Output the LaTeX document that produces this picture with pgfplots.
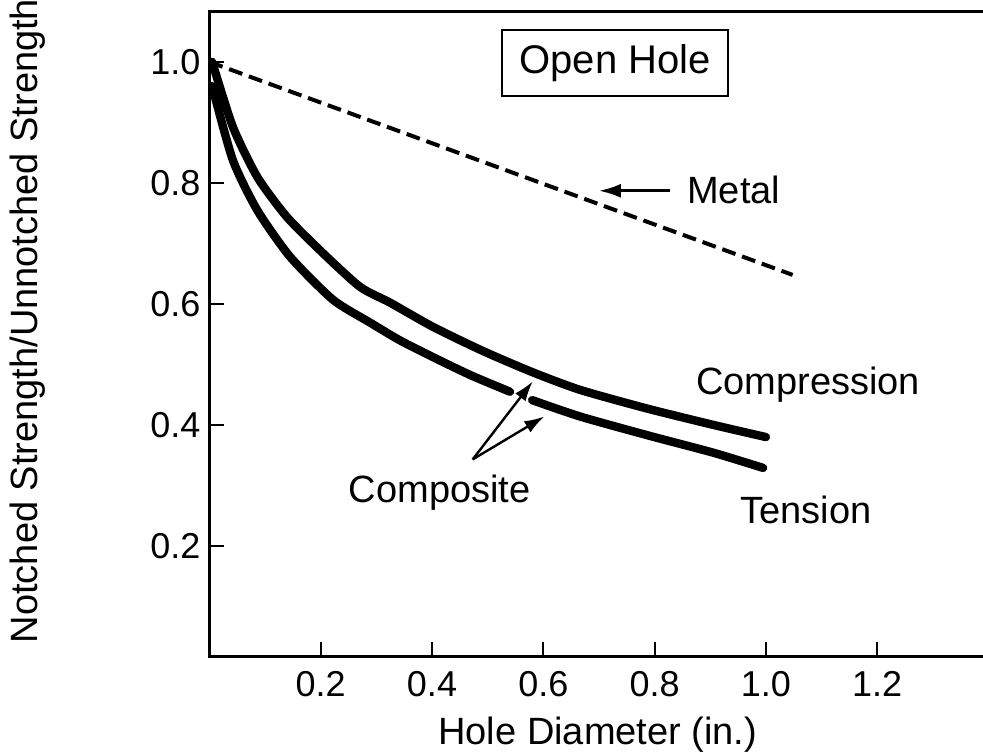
\documentclass[border=0pt]{standalone}
\usepackage{pgfplots}
\pgfplotsset{compat=1.18}
\usepackage{fontspec}
\setmainfont{Liberation Sans}
\usetikzlibrary{arrows.meta}
\begin{document}
\begin{tikzpicture}
\begin{axis}[
  scale only axis,
  width=389.55pt, height=322.5pt,
  xmin=0, xmax=1.40, ymin=0.017, ymax=1.083,
  axis line style={line width=1.3pt},
  xtick={0.2,0.4,0.6,0.8,1.0,1.2},
  ytick={0.2,0.4,0.6,0.8,1.0},
  xtick pos=bottom, ytick pos=left, tick align=inside,
  major tick length=7.5pt,
  every tick/.style={black, line width=1pt},
  /pgf/number format/.cd, fixed, fixed zerofill, precision=1, assume math mode=true,
  /pgfplots/.cd,
  ticklabel style={font=\fontsize{18}{21}\selectfont},
  xticklabel style={yshift=-4pt},
  yticklabel style={xshift=-1pt},
  xlabel={Hole Diameter (in.)},
  ylabel={Notched Strength/Unnotched Strength},
  label style={font=\fontsize{19}{23}\selectfont},
  xlabel style={at={(axis description cs:0.4986,-0.1214)}, anchor=center},
  ylabel style={at={(axis description cs:-0.2328,0.5205)}, anchor=center},
]
% Metal (dashed)
\addplot[black, line width=2pt, dash pattern=on 7pt off 3.5pt] coordinates {
  (0.000,1.000) (1.048,0.648)
};
% Composite compression
\addplot[black, line width=4.2pt, line join=round, line cap=round, smooth, tension=0.4] coordinates {
  (0.005,1.000) (0.042,0.893) (0.086,0.810) (0.139,0.744) (0.204,0.684)
  (0.271,0.628) (0.325,0.602) (0.402,0.562) (0.492,0.522) (0.581,0.487)
  (0.666,0.458) (0.787,0.427) (0.906,0.400) (1.000,0.380)
};
% Composite tension (segment 1)
\addplot[black, line width=4.2pt, line join=round, line cap=round, smooth, tension=0.4] coordinates {
  (0.005,0.960) (0.042,0.838) (0.086,0.755) (0.145,0.678) (0.222,0.607)
  (0.289,0.569) (0.342,0.540) (0.402,0.512) (0.470,0.482) (0.540,0.455)
};
% Composite tension (segment 2)
\addplot[black, line width=4.2pt, line join=round, line cap=round, smooth, tension=0.4] coordinates {
  (0.580,0.441) (0.666,0.414) (0.787,0.383) (0.906,0.354) (0.995,0.329)
};
\coordinate (O) at (axis cs:0,0.017);
\begin{scope}[font=\fontsize{19}{23}\selectfont]
\node[draw, line width=1.2pt, minimum width=113pt, minimum height=33pt, inner sep=0pt, font=\fontsize{20}{24}\selectfont] at (axis cs:0.729,0.998) {Open Hole};
\node[anchor=west, inner sep=0pt] at (axis cs:0.858,0.788) {Metal};
\node[inner sep=0pt] at (axis cs:1.076,0.466) {Compression};
\node[inner sep=0pt] at (axis cs:1.072,0.260) {Tension};
\node[inner sep=0pt] at (axis cs:0.414,0.288) {Composite};
\end{scope}
\draw[line width=1.3pt, -{Latex[length=11pt,width=7pt]}] (axis cs:0.828,0.787) -- (axis cs:0.700,0.787);
\draw[line width=1.2pt, -{Latex[length=10pt,width=6.5pt]}] (axis cs:0.473,0.343) -- (axis cs:0.581,0.472);
\draw[line width=1.2pt, -{Latex[length=10pt,width=6.5pt]}] (axis cs:0.473,0.343) -- (axis cs:0.602,0.414);
\end{axis}
\pgfresetboundingbox
\path[use as bounding box] ([shift={(-104.7pt,-48.15pt)}]O) rectangle ([shift={(386.8pt,328.35pt)}]O);
\end{tikzpicture}
\end{document}
